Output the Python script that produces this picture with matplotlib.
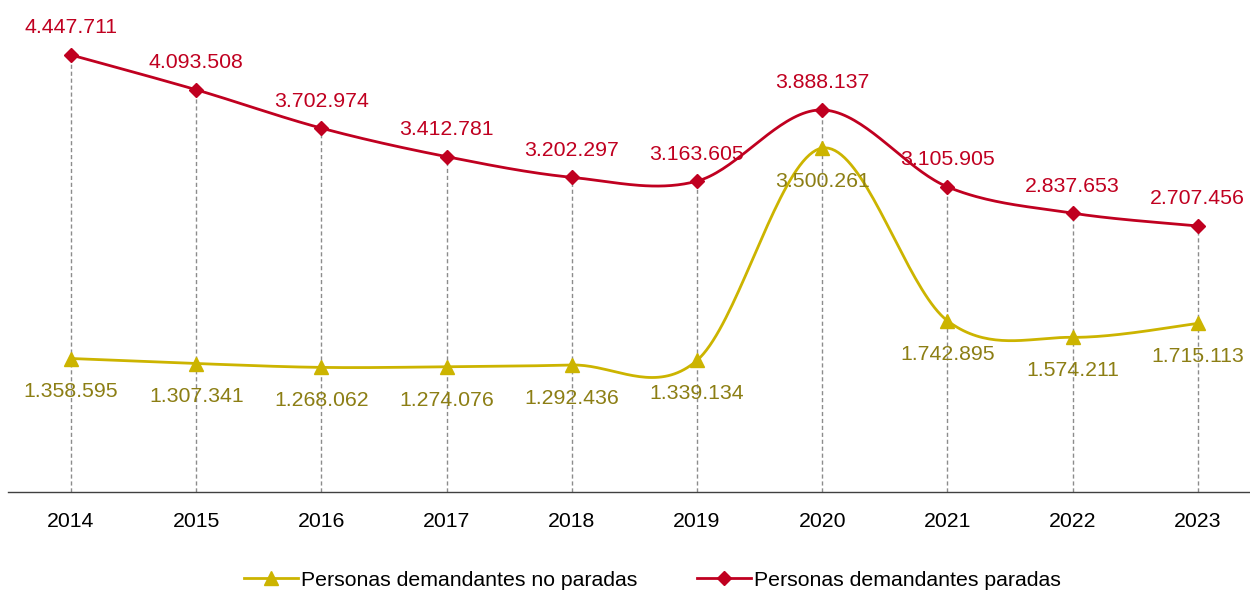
import matplotlib
matplotlib.use("Agg")
import matplotlib.pyplot as plt
from matplotlib.lines import Line2D
import numpy as np

years = ["2014", "2015", "2016", "2017", "2018", "2019", "2020", "2021", "2022", "2023"]
no_paradas = [1358595, 1307341, 1268062, 1274076, 1292436, 1339134, 3500261, 1742895, 1574211, 1715113]
paradas = [4447711, 4093508, 3702974, 3412781, 3202297, 3163605, 3888137, 3105905, 2837653, 2707456]

label_no = "Personas demandantes no paradas"
label_si = "Personas demandantes paradas"

RED = "#C00020"
YEL = "#CCB400"
YEL_TXT = "#8C7E14"
FS = 15.3

plt.rcParams['font.family'] = ['Liberation Sans', 'DejaVu Sans']


def smooth(xs, ys, n=40):
    xs = np.asarray(xs, float)
    ys = np.asarray(ys, float)
    P = np.column_stack([xs, ys])
    Pe = np.vstack([P[0], P, P[-1]])
    out = [P[:1]]
    t = np.linspace(0, 1, n)[1:, None]
    for i in range(len(P) - 1):
        p0 = Pe[i + 1]
        p3 = Pe[i + 2]
        c1 = p0 + (Pe[i + 2] - Pe[i]) / 6.0
        c2 = p3 - (Pe[i + 3] - Pe[i + 1]) / 6.0
        seg = ((1 - t) ** 3) * p0 + 3 * ((1 - t) ** 2) * t * c1 + 3 * (1 - t) * t ** 2 * c2 + t ** 3 * p3
        out.append(seg)
    C = np.vstack(out)
    return C[:, 0], C[:, 1]


fig = plt.figure(figsize=(12.5, 5.92), dpi=100)
ax = fig.add_axes([8.4 / 1250, 1 - 492 / 592, 1252 / 1250, 492 / 592])
x = np.arange(len(years))
ax.set_xlim(-0.5, 9.5)
ax.set_ylim(0, 5007000)

top = np.maximum(no_paradas, paradas)
ax.vlines(x, 0, top, colors="#8c8c8c", linestyles=(0, (3, 2)), linewidth=1.0, zorder=1)

sx, sy = smooth(x, no_paradas)
ax.plot(sx, sy, color=YEL, lw=2.0, zorder=2, solid_capstyle='round')
ax.plot(x, no_paradas, ls='none', marker='^', ms=10, color=YEL, zorder=3, clip_on=False)

sx, sy = smooth(x, paradas)
ax.plot(sx, sy, color=RED, lw=2.0, zorder=2, solid_capstyle='round')
ax.plot(x, paradas, ls='none', marker='D', ms=7.5, color=RED, zorder=3, clip_on=False)


def fmt(v):
    return f"{v:,}".replace(",", ".")


for xi, v in zip(x, paradas):
    ax.annotate(fmt(v), (xi, v), xytext=(0, 19.5), textcoords='offset points',
                ha='center', va='center', fontsize=FS, color=RED, zorder=4)
for xi, v in zip(x, no_paradas):
    ax.annotate(fmt(v), (xi, v), xytext=(0, -24), textcoords='offset points',
                ha='center', va='center', fontsize=FS, color=YEL_TXT, zorder=4)

for s in ['top', 'right', 'left']:
    ax.spines[s].set_visible(False)
ax.spines['bottom'].set_color('#404040')
ax.spines['bottom'].set_linewidth(1.0)
ax.set_yticks([])
ax.set_xticks(x)
ax.set_xticklabels(years, fontsize=FS, color='black')
ax.tick_params(axis='x', length=0, pad=14.5)
ax.patch.set_alpha(0)

handles = [
    Line2D([], [], color=YEL, lw=2.0, marker='^', ms=10),
    Line2D([], [], color=RED, lw=2.0, marker='D', ms=7.5),
]
fig.legend(handles, [label_no, label_si], loc='center', bbox_to_anchor=(0.522, 1 - 580 / 592),
           ncol=2, frameon=False, fontsize=FS, handlelength=2.55, handletextpad=0.15,
           columnspacing=2.8, borderpad=0)

fig.savefig("out.png", dpi=100)
